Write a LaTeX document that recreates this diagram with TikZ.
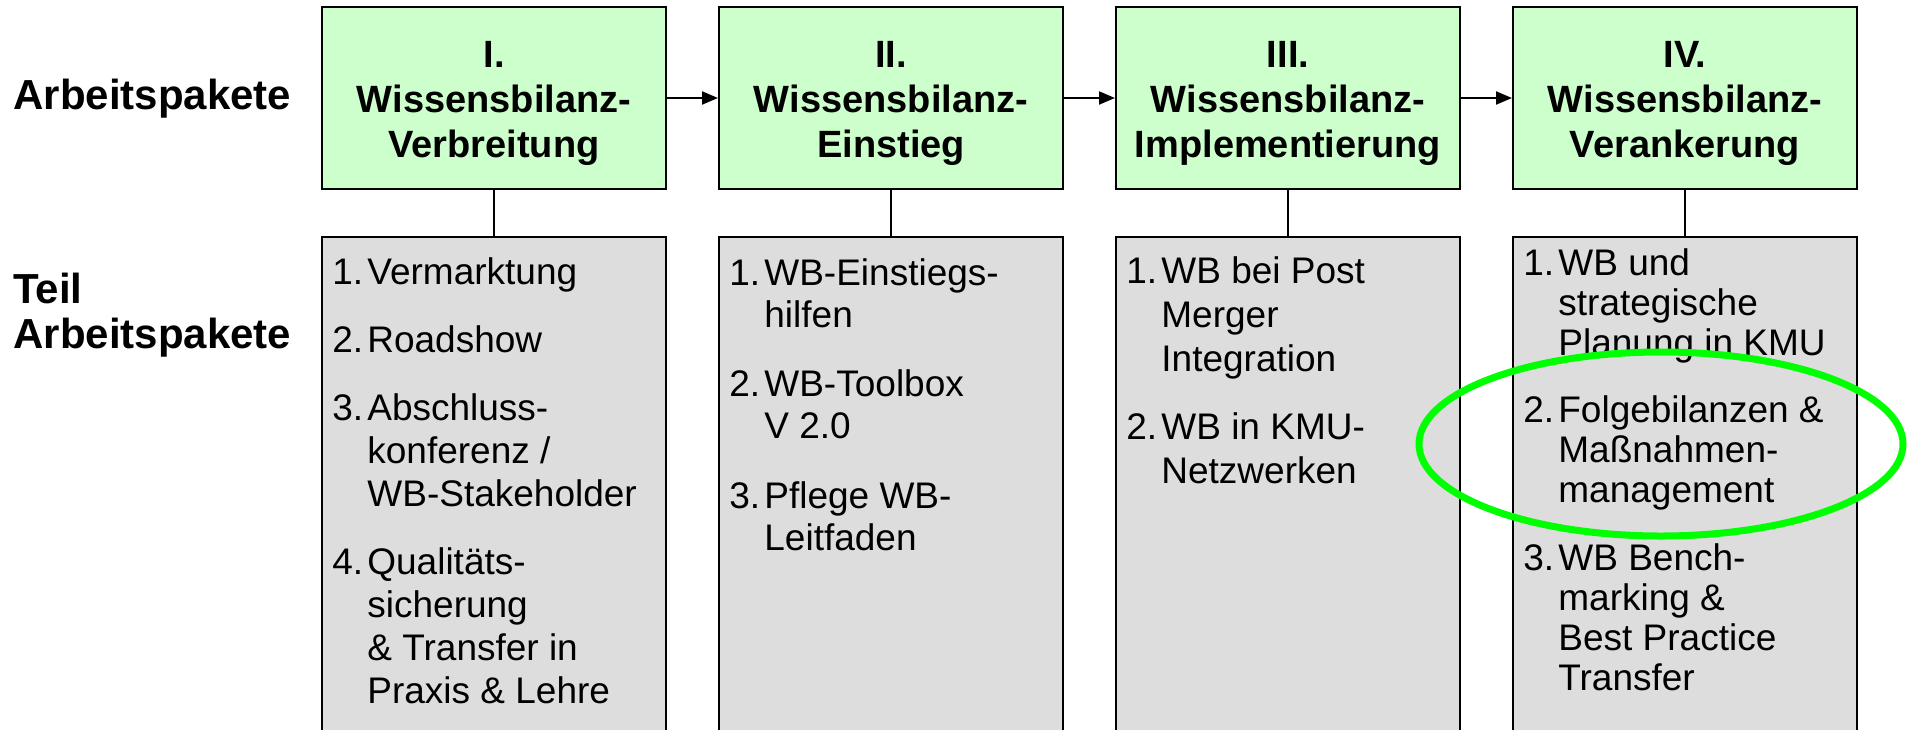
\documentclass[tikz,border=0pt]{standalone}
\usepackage{fontspec}
\setmainfont{Liberation Sans}
\usetikzlibrary{arrows.meta}

\definecolor{wpgreen}{RGB}{204,255,204}
\definecolor{wpgray}{RGB}{221,221,221}
\definecolor{ringgreen}{RGB}{0,255,0}

% heading text of a work package box
\newcommand{\wphead}[2]{\begin{tabular}{@{}c@{}}\rule{0pt}{20.75pt}#1\\#2\end{tabular}}
% numbered list: line pitch, gap between items, rows
\newcommand{\wpitems}[3]{{\fontsize{18.5pt}{#1}\selectfont\def\wpgap{#2}%
  \begin{tabular}[t]{@{}p{17.5pt}@{}l@{}}#3\end{tabular}}}

\begin{document}
\begin{tikzpicture}[x=0.5pt, y=-0.5pt,
  wpbox/.style={draw, line width=1pt, fill=wpgreen, minimum width=172pt, minimum height=91pt, inner sep=0pt, font=\bfseries\fontsize{19pt}{22.5pt}\selectfont},
  subbox/.style={draw, line width=1pt, fill=wpgray, minimum width=172pt, minimum height=261.5pt, inner sep=0pt},
  sublist/.style={anchor=base west, inner sep=0pt},
  rowlabel/.style={anchor=base west, inner sep=0pt, font=\bfseries\fontsize{21pt}{22.5pt}\selectfont},
  flow/.style={line width=1pt, -{Triangle[length=8pt, width=6.5pt]}}]
  \useasboundingbox (0,0) rectangle (1916,729);
  \clip (0,0) rectangle (1916,729);

  % row labels
  \node[rowlabel] (ap) at (13,109) {Arbeitspakete};
  \node[rowlabel] (tap) at (13,303) {\begin{tabular}[t]{@{}l@{}}Teil\\Arbeitspakete\end{tabular}};

  % work packages
  \node[wpbox] (h1) at (494,98) {\wphead{I.}{Wissensbilanz-\\Verbreitung}};
  \node[wpbox] (h2) at (891,98) {\wphead{II.}{Wissensbilanz-\\Einstieg}};
  \node[wpbox] (h3) at (1288,98) {\wphead{III.}{Wissensbilanz-\\Implementierung}};
  \node[wpbox] (h4) at (1685,98) {\wphead{IV.}{Wissensbilanz-\\Verankerung}};

  % sub work packages
  \node[subbox] (g1) at (494,498.5) {};
  \node[subbox] (g2) at (891,498.5) {};
  \node[subbox] (g3) at (1288,498.5) {};
  \node[subbox] (g4) at (1685,498.5) {};

  \draw[flow] (h1) -- (h2);
  \draw[flow] (h2) -- (h3);
  \draw[flow] (h3) -- (h4);
  \foreach \i in {1,...,4}
    \draw[line width=1pt] (h\i) -- (g\i);

  \node[sublist] (l1) at (332,284) {\wpitems{21.5pt}{12.5pt}{%
    1.&Vermarktung\\[\wpgap]
    2.&Roadshow\\[\wpgap]
    3.&Abschluss-\\ &konferenz /\\ &WB-Stakeholder\\[\wpgap]
    4.&Qualitäts-\\ &sicherung\\ &\& Transfer in\\ &Praxis \& Lehre}};
  \node[sublist] (l2) at (729,285) {\wpitems{21pt}{13.75pt}{%
    1.&WB-Einstiegs-\\ &hilfen\\[\wpgap]
    2.&WB-Toolbox\\ &V 2.0\\[\wpgap]
    3.&Pflege WB-\\ &Leitfaden}};
  \node[sublist] (l3) at (1126,283) {\wpitems{22pt}{12pt}{%
    1.&WB bei Post\\ &Merger\\ &Integration\\[\wpgap]
    2.&WB in KMU-\\ &Netzwerken}};
  \node[sublist] (l4) at (1523,275) {\wpitems{20pt}{13.75pt}{%
    1.&WB und\\ &strategische\\ &Planung in KMU\\[\wpgap]
    2.&Folgebilanzen \&\\ &Maßnahmen-\\ &management\\[\wpgap]
    3.&WB Bench-\\ &marking \&\\ &Best Practice\\ &Transfer}};

  % highlight
  \draw[ringgreen, line width=3.5pt] (1661,444) ellipse [x radius=242, y radius=92];
\end{tikzpicture}
\end{document}
